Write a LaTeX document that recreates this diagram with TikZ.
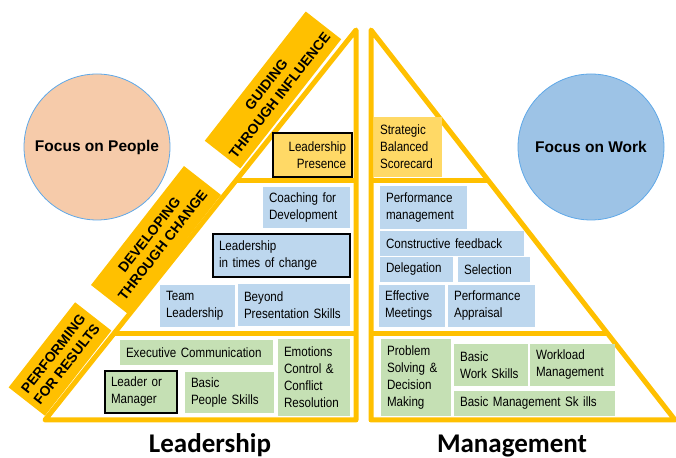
\documentclass[tikz,border=0pt]{standalone}
\usepackage{fontspec}
\setmainfont{Liberation Sans}[FakeStretch=0.86]
\newfontfamily\bannerfont{Liberation Sans}
\newfontfamily\titlefont{Carlito}
\usetikzlibrary{calc}
\definecolor{frameyellow}{HTML}{FFC000}
\definecolor{courseblue}{HTML}{BDD7EE}
\definecolor{coursegreen}{HTML}{C5E0B4}
\definecolor{coursegold}{HTML}{FFD966}
\definecolor{peoplepeach}{HTML}{F6CBAA}
\definecolor{workblue}{HTML}{9DC3E6}
\definecolor{circleline}{HTML}{5EA8E8}
\begin{document}
\begin{tikzpicture}[x=1pt, y=1pt,
    every node/.style={font=\fontsize{13.5}{17}\selectfont},
    course/.style={inner xsep=6pt, inner ysep=1pt, align=left},
    bluecourse/.style={course, fill=courseblue},
    greencourse/.style={course, fill=coursegreen},
    goldcourse/.style={course, fill=coursegold},
    keycourse/.style={draw=black, line width=2pt},
    banner/.style={fill=frameyellow, rotate=52, align=center, inner sep=0pt, font=\bannerfont\bfseries\fontsize{14}{17}\selectfont},
    focus/.style={circle, draw=circleline, line width=0.8pt, minimum size=146pt, font=\bannerfont\bfseries\fontsize{15.5}{18}\selectfont},
    frame/.style={draw=frameyellow, line width=5pt, line join=round}]
    \useasboundingbox (0,0) rectangle (676,457);

    % Pyramide
    \coordinate (ltop) at (356,427);
    \coordinate (lleft) at (45,37);
    \coordinate (lright) at (356,37);
    \coordinate (rtop) at (371,427);
    \coordinate (rleft) at (371,37);
    \coordinate (rright) at (675,37);
    \draw[frame] (ltop) -- (lleft) -- (lright) -- cycle;
    \draw[frame] ($(ltop)!0.387!(lleft)$) -- ($(ltop)!0.387!(lright)$);
    \draw[frame] ($(ltop)!0.777!(lleft)$) -- ($(ltop)!0.777!(lright)$);
    \draw[frame] (rtop) -- (rright) -- (rleft) -- cycle;
    \draw[frame] ($(rtop)!0.387!(rleft)$) -- ($(rtop)!0.387!(rright)$);
    \draw[frame] ($(rtop)!0.777!(rleft)$) -- ($(rtop)!0.777!(rright)$);

    % Bandeiras
    \node[banner, minimum width=164pt, minimum height=45pt] (guiding) at (273,367) {GUIDING\\THROUGH INFLUENCE};
    \node[banner, minimum width=151pt, minimum height=47pt] (developing) at (156,217) {DEVELOPING\\THROUGH CHANGE};
    \node[banner, minimum width=108pt, minimum height=46pt] (performing) at (60,98) {PERFORMING\\FOR RESULTS};

    % Circulos
    \node[focus, fill=peoplepeach] (people) at (97,310) {Focus on People};
    \node[focus, fill=workblue] (work) at (591,310) {Focus on Work};

    % Leadership
    \node[goldcourse, keycourse, text width=67pt, minimum height=44pt, align=right] (presence) at (312.5,302) {Leadership\\Presence};
    \node[bluecourse, text width=75pt, minimum height=41pt] (coaching) at (306.5,249.5) {Coaching for\\Development};
    \node[bluecourse, keycourse, text width=125pt, minimum height=43pt] (change) at (281.5,201.5) {Leadership\\in times of change};
    \node[bluecourse, text width=63pt, minimum height=42pt] (team) at (197.5,151) {Team\\Leadership};
    \node[bluecourse, text width=100pt, minimum height=42pt] (beyond) at (294,152) {Beyond\\Presentation Skills};
    \node[greencourse, text width=141pt, minimum height=25pt] (executive) at (196.5,104.5) {Executive Communication};
    \node[greencourse, text width=60pt, minimum height=77pt] (emotions) at (314,79.5) {Emotions\\Control \&\\Conflict\\Resolution};
    \node[greencourse, keycourse, text width=60pt, minimum height=42pt] (leader) at (141,65) {Leader or\\Manager};
    \node[greencourse, text width=77pt, minimum height=41pt] (peopleskills) at (229.5,64.5) {Basic\\People Skills};

    % Management
    \node[goldcourse, text width=56pt, minimum height=60pt] (scorecard) at (408,310) {Strategic\\Balanced\\Scorecard};
    \node[bluecourse, text width=75pt, minimum height=43pt] (perfmgmt) at (423.5,249.5) {Performance\\management};
    \node[bluecourse, text width=132pt, minimum height=25pt] (feedback) at (452,213.5) {Constructive feedback};
    \node[bluecourse, text width=61pt, minimum height=25pt] (delegation) at (416.5,187.5) {Delegation};
    \node[bluecourse, text width=60pt, minimum height=25pt] (selection) at (494,187.5) {Selection};
    \node[bluecourse, text width=54pt, minimum height=42pt] (meetings) at (412,151) {Effective\\Meetings};
    \node[bluecourse, text width=75pt, minimum height=42pt] (appraisal) at (491.5,151) {Performance\\Appraisal};
    \node[greencourse, text width=58pt, minimum height=77pt] (problem) at (416,79.5) {Problem\\Solving \&\\Decision\\Making};
    \node[greencourse, text width=62pt, minimum height=42pt] (workskills) at (491,92) {Basic\\Work Skills};
    \node[greencourse, text width=73pt, minimum height=42pt] (workload) at (572.5,92) {Workload\\Management};
    \node[greencourse, text width=149pt, minimum height=25pt] (mgmtskills) at (534.5,53.5) {Basic Management Sk ills};

    % Titulos
    \node[anchor=base, font=\titlefont\bfseries\fontsize{27}{30}\selectfont] (leadership) at (210,5) {Leadership};
    \node[anchor=base, font=\titlefont\bfseries\fontsize{27}{30}\selectfont] (management) at (512,5) {Management};
\end{tikzpicture}
\end{document}
